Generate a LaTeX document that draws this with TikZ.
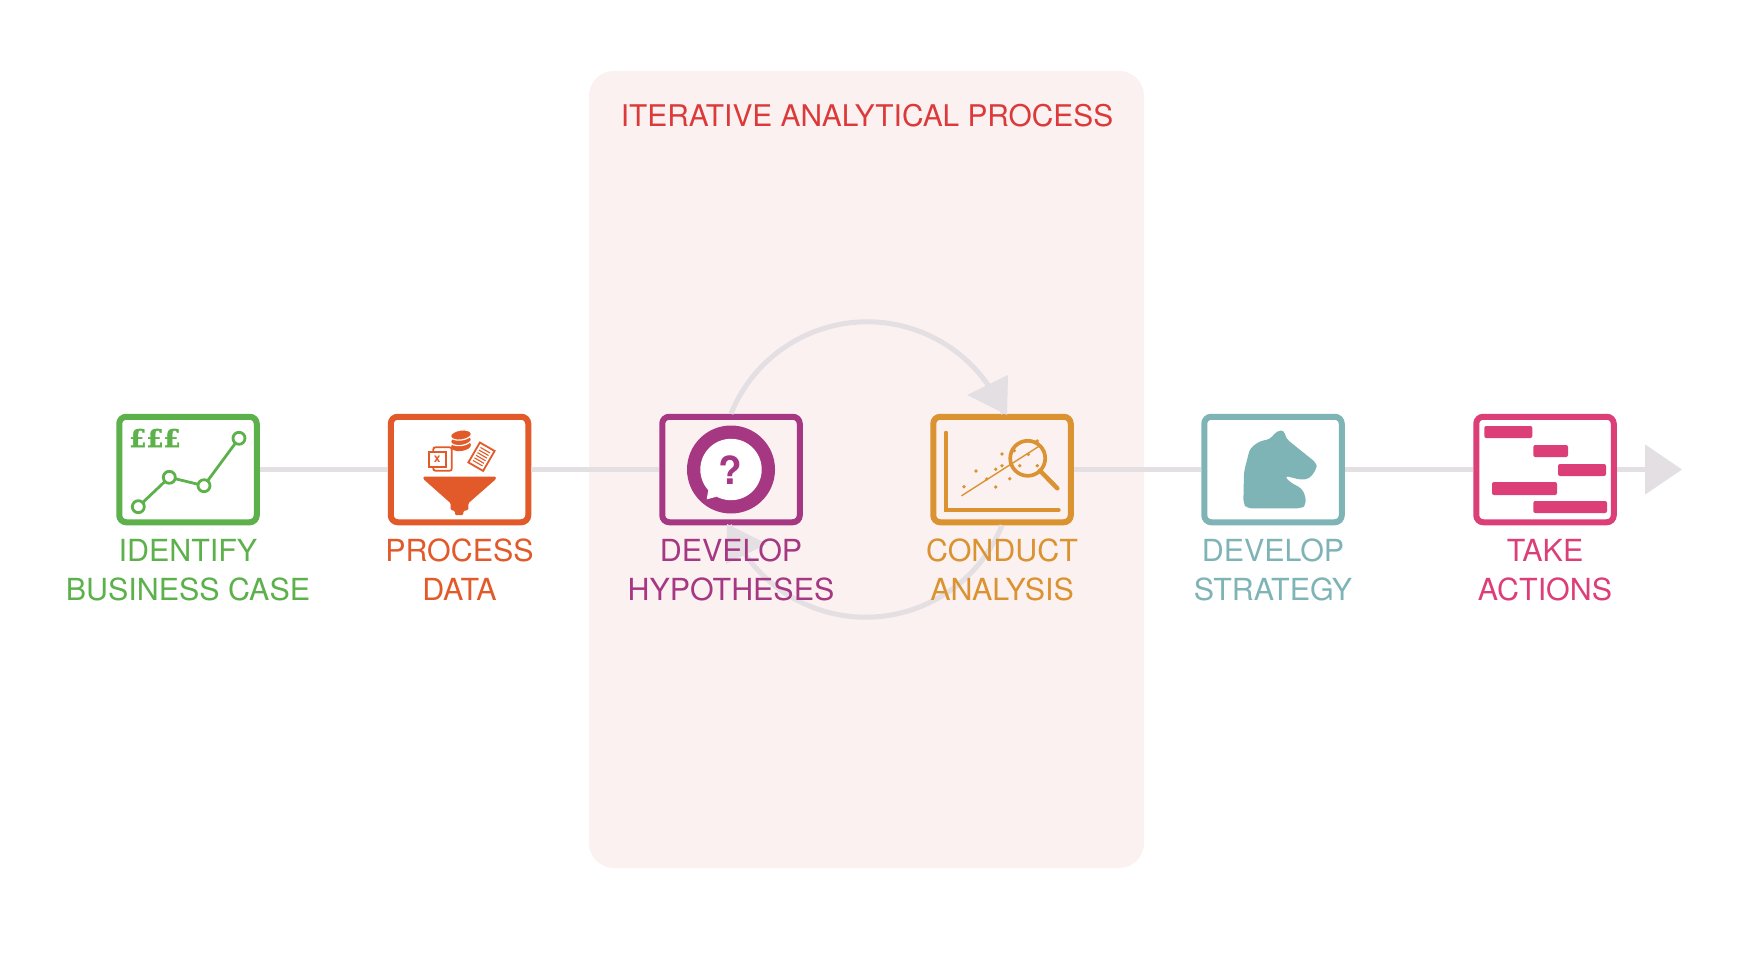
\documentclass[tikz,border=0pt]{standalone}
\usepackage{fontspec}
\setmainfont{TeX Gyre Heros}
\newfontfamily\poundfont[BoldFeatures={FakeBold=1.5}]{DejaVu Serif}
\usetikzlibrary{arrows.meta}

\definecolor{stepgreen}{HTML}{5DB14B}
\definecolor{steporange}{HTML}{E25A2A}
\definecolor{steppurple}{HTML}{A63782}
\definecolor{stepamber}{HTML}{DA9330}
\definecolor{stepteal}{HTML}{7FB4B6}
\definecolor{steppink}{HTML}{DC3F78}
\definecolor{titlered}{HTML}{DC3A3A}
\definecolor{flowgrey}{HTML}{E3DFE3}
\definecolor{panelrose}{HTML}{FBF1F1}

\tikzset{
    stepbox/.style={draw=#1, line width=0.06cm, rounded corners=0.07cm, fill=white,
        minimum width=1.375cm, minimum height=1.055cm, inner sep=0pt},
    steplabel/.style={text=#1, align=center, inner sep=0pt,
        font=\fontsize{8.65}{11.1}\selectfont},
    flowline/.style={draw=flowgrey, line width=0.05cm},
    loopline/.style={draw=flowgrey, line width=0.05cm}
}

\begin{document}
\begin{tikzpicture}
        \path[fill=white,use as bounding box] (0,0) rectangle (17.5,-9.56);

        % Iterative panel
        \fill[panelrose, rounded corners=0.25cm] (5.89,-0.71) rectangle (11.44,-8.68);
        \node[text=titlered, font=\fontsize{8.5}{11.1}\selectfont] (title) at (8.67,-1.16) {ITERATIVE ANALYTICAL PROCESS};

        % Step boxes
        \node[stepbox=stepgreen]  (identify)   at ( 1.88, -4.695) {};
        \node[stepbox=steporange] (process)    at ( 4.595,-4.695) {};
        \node[stepbox=steppurple, fill=panelrose] (hypotheses) at ( 7.31, -4.695) {};
        \node[stepbox=stepamber,  fill=panelrose] (conduct)    at (10.02, -4.695) {};
        \node[stepbox=stepteal]   (strategy)   at (12.73, -4.695) {};
        \node[stepbox=steppink]   (actions)    at (15.45, -4.695) {};
        \coordinate (flowend) at (16.82,-4.695);

        % Flow
        \draw[flowline] (identify)   -- (process);
        \draw[flowline] (process)    -- (hypotheses);
        \draw[flowline] (conduct)    -- (strategy);
        \draw[flowline] (strategy)   -- (actions);
        \draw[flowline, -{Triangle[length=0.37cm,width=0.49cm]}] (actions) -- (flowend);

        % Loop
        \draw[loopline] (hypotheses.north) arc (158:22:1.47);
        \draw[loopline] (conduct.south)    arc (-22:-158:1.47);
        \fill[flowgrey] ( 9.67,-3.95) -- (10.08,-3.75) -- (10.07,-4.15) -- cycle;
        \fill[flowgrey] ( 7.67,-5.44) -- ( 7.26,-5.64) -- ( 7.27,-5.24) -- cycle;

        % Chart icon
        \begin{scope}[shift={(identify)}]
            \draw[stepgreen, line width=0.028cm] (-0.497,-0.372) -- (-0.187,-0.078) -- (0.16,-0.162) -- (0.51,0.312);
            \draw[stepgreen, fill=white, line width=0.028cm] (-0.497,-0.372) circle (0.06);
            \draw[stepgreen, fill=white, line width=0.028cm] (-0.187,-0.078) circle (0.06);
            \draw[stepgreen, fill=white, line width=0.028cm] ( 0.16, -0.162) circle (0.06);
            \draw[stepgreen, fill=white, line width=0.028cm] ( 0.51,  0.312) circle (0.06);
            \node[text=stepgreen, inner sep=0pt, font=\poundfont\bfseries\fontsize{7}{7}\selectfont] (pounds) at (-0.33,0.315) {£££};
        \end{scope}

        % Funnel icon
        \begin{scope}[shift={(process)}]
            \fill[steporange, rounded corners=0.012cm] (-0.362,-0.072) -- (0.365,-0.072) -- (0.365,-0.095) -- (0.088,-0.338) -- (0.088,-0.405)
                -- (0.038,-0.415) -- (0.038,-0.455) -- (-0.045,-0.455) -- (-0.045,-0.415) -- (-0.088,-0.405) -- (-0.088,-0.338) -- (-0.362,-0.095) -- cycle;
            % database
            \fill[steporange, rotate around={8:(0.015,0.235)}] (0.015,0.235) ellipse (0.1 and 0.05);
            \draw[white, fill=steporange, line width=0.012cm, rotate around={8:(0.015,0.29)}] (0.015,0.29) ellipse (0.105 and 0.05);
            \draw[white, fill=steporange, line width=0.012cm, rotate around={8:(0.015,0.345)}] (0.015,0.345) ellipse (0.105 and 0.05);
            % sheets
            \draw[steporange, fill=white, line width=0.018cm, rounded corners=0.02cm] (-0.262,0.222) rectangle (-0.078,-0.012);
            \draw[steporange, fill=white, line width=0.02cm] (-0.305,0.178) rectangle (-0.138,0.028);
            \node[text=steporange, inner sep=0pt, font=\bfseries\fontsize{3.4}{3.4}\selectfont] (sheetx) at (-0.222,0.102) {x};
            % page
            \begin{scope}[shift={(0.22,0.128)}, rotate=-30]
                \draw[steporange, fill=white, line width=0.018cm] (-0.085,-0.115) rectangle (0.085,0.115);
                \draw[steporange, line width=0.011cm] (-0.055, 0.075) -- (0.055, 0.075);
                \draw[steporange, line width=0.011cm] (-0.055, 0.045) -- (0.055, 0.045);
                \draw[steporange, line width=0.011cm] (-0.055, 0.015) -- (0.055, 0.015);
                \draw[steporange, line width=0.011cm] (-0.055,-0.015) -- (0.055,-0.015);
                \draw[steporange, line width=0.011cm] (-0.055,-0.045) -- (0.055,-0.045);
                \draw[steporange, line width=0.011cm] (-0.055,-0.075) -- (0.055,-0.075);
            \end{scope}
        \end{scope}

        % Question icon
        \begin{scope}[shift={(hypotheses)}]
            \fill[steppurple] (0,0) circle (0.44);
            \fill[white] (0,0) circle (0.307);
            \fill[white] (-0.227,-0.205) -- (-0.243,-0.298) -- (-0.143,-0.272) -- cycle;
            \node[text=steppurple, inner sep=0pt, font=\bfseries\fontsize{11}{11}\selectfont] (query) at (-0.003,-0.01) {?};
        \end{scope}

        % Scatter icon
        \begin{scope}[shift={(conduct)}]
            \draw[stepamber, line width=0.033cm, line cap=round, line join=miter] (-0.56,0.371) -- (-0.56,-0.405) -- (0.57,-0.405);
            \draw[stepamber, line width=0.014cm, line cap=round] (-0.403,-0.262) -- (0.363,0.228);
            \fill[stepamber] (-0.38,-0.172) circle (0.019) (-0.26,-0.015) circle (0.019) (-0.153,-0.095) circle (0.019)
                (-0.063,-0.175) circle (0.019) (-0.063,0.002) circle (0.019) (0,0.155) circle (0.019) (0,0.038) circle (0.019)
                (0.077,-0.092) circle (0.019) (0.123,0.188) circle (0.019) (0.177,0.038) circle (0.019) (0.263,0.152) circle (0.019)
                (0.353,0.038) circle (0.019) (0.353,0.285) circle (0.019);
            \draw[stepamber, line width=0.037cm] (0.257,0.112) circle (0.175);
            \draw[stepamber, line width=0.045cm, line cap=round] (0.38,-0.012) -- (0.553,-0.188);
        \end{scope}

        % Knight icon
        \begin{scope}[shift={(strategy)}]
            \fill[stepteal, rounded corners=0.04cm] (-0.297,-0.338) -- (-0.29,-0.022) -- (-0.23,0.212) -- (-0.13,0.285) -- (-0.03,0.302)
                -- (0.037,0.385) -- (0.113,0.395) -- (0.127,0.312) -- (0.437,0.062) -- (0.437,0.012) -- (0.37,-0.088) -- (0.287,-0.105)
                -- (0.113,-0.062) -- (0.17,-0.128) -- (0.287,-0.188) -- (0.327,-0.272) -- (0.327,-0.355) -- (0.287,-0.388) -- (-0.263,-0.388) -- cycle;
        \end{scope}

        % Gantt icon
        \begin{scope}[shift={(actions)}]
            \fill[steppink, rounded corners=0.02cm] (-0.607, 0.435) rectangle (-0.127, 0.315);
            \fill[steppink, rounded corners=0.02cm] (-0.117, 0.245) rectangle ( 0.23,  0.125);
            \fill[steppink, rounded corners=0.02cm] ( 0.13,  0.055) rectangle ( 0.61, -0.065);
            \fill[steppink, rounded corners=0.02cm] (-0.53, -0.125) rectangle ( 0.12, -0.255);
            \fill[steppink, rounded corners=0.02cm] (-0.117,-0.315) rectangle ( 0.62, -0.435);
        \end{scope}

        % Labels
        \node[steplabel=stepgreen]  (identifytext)   at ( 1.88, -5.70) {IDENTIFY\\BUSINESS CASE};
        \node[steplabel=steporange] (processtext)    at ( 4.595,-5.70) {PROCESS\\DATA};
        \node[steplabel=steppurple] (hypothesestext) at ( 7.31, -5.70) {DEVELOP\\HYPOTHESES};
        \node[steplabel=stepamber]  (conducttext)    at (10.02, -5.70) {CONDUCT\\ANALYSIS};
        \node[steplabel=stepteal]   (strategytext)   at (12.73, -5.70) {DEVELOP\\STRATEGY};
        \node[steplabel=steppink]   (actionstext)    at (15.45, -5.70) {TAKE\\ACTIONS};
\end{tikzpicture}
\end{document}
